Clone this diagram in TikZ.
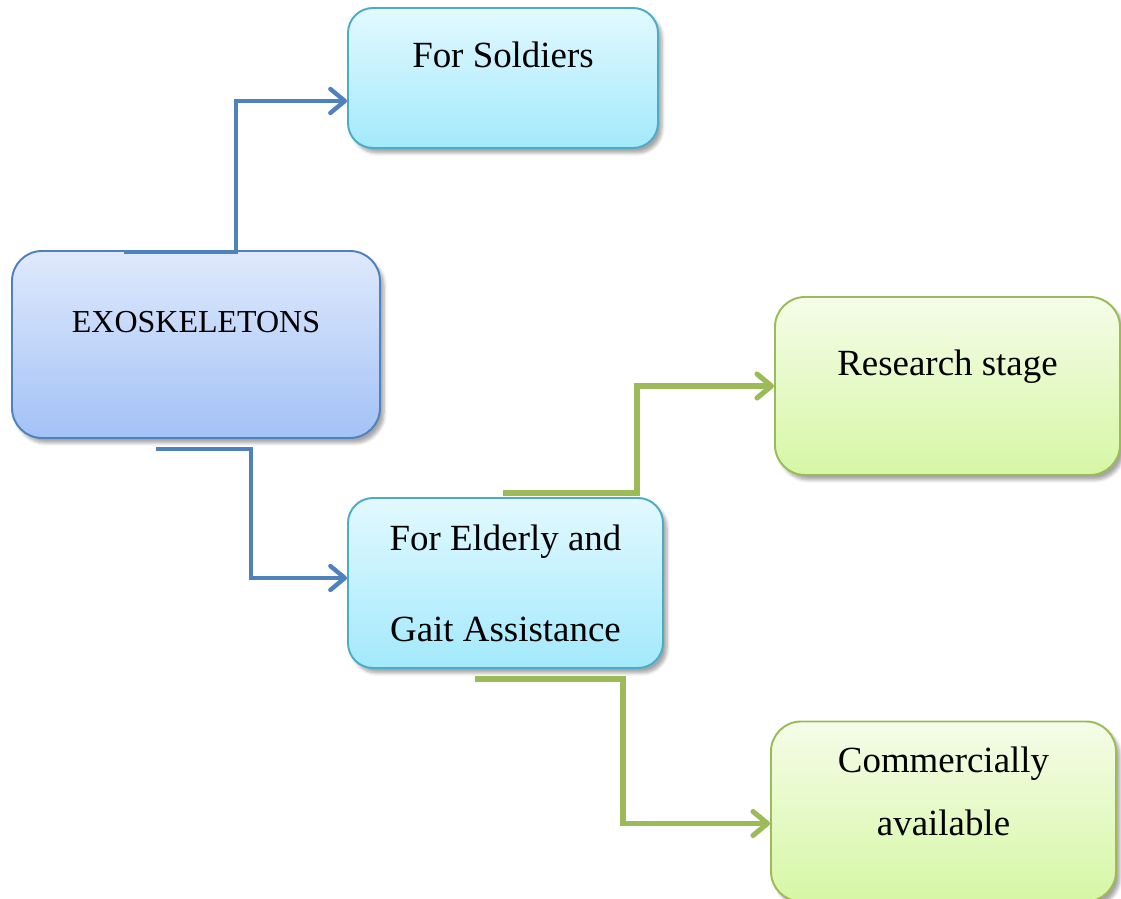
\documentclass[tikz,border=0pt]{standalone}
\usepackage{fontspec}
\setmainfont{Liberation Serif}
\usetikzlibrary{arrows.meta, positioning, calc, shadows.blur}
\definecolor{exoline}{HTML}{4F81BD}
\definecolor{exotop}{HTML}{DFE9FC}
\definecolor{exobot}{HTML}{A3C2F7}
\definecolor{cyline}{HTML}{4BACC6}
\definecolor{cytop}{HTML}{E2F9FF}
\definecolor{cybot}{HTML}{A3E9FC}
\definecolor{grline}{HTML}{9BBB59}
\definecolor{grtop}{HTML}{F5FCE8}
\definecolor{grbot}{HTML}{D6F7A5}

\begin{document}
\begin{tikzpicture}[
  >={Straight Barb[length=2.9mm, width=4.8mm, round]},
  box/.style n args={3}{
    draw=#1, line width=1.1pt, top color=#2, bottom color=#3,
    blur shadow={shadow xshift=0.8mm, shadow yshift=-1mm,
      shadow opacity=35, shadow blur steps=6}},
  lbl/.style={anchor=base, inner sep=0pt, text=black,
    font=\fontsize{21}{25}\selectfont},
  conn/.style={draw=#1, line width=2.5pt},
]

% Canvas
\useasboundingbox (0,0) rectangle (22.42,17.98);

% === Boxes ===
\node[box={exoline}{exotop}{exobot}, rounded corners=0.6cm,
  minimum width=7.36cm, minimum height=3.74cm] (exo) at (3.92,11.09) {};
\node[box={cyline}{cytop}{cybot}, rounded corners=0.5cm,
  minimum width=6.2cm, minimum height=2.8cm] (soldier) at (10.06,16.42) {};
\node[box={cyline}{cytop}{cybot}, rounded corners=0.5cm,
  minimum width=6.3cm, minimum height=3.4cm] (elderly) at (10.11,6.32) {};
\node[box={grline}{grtop}{grbot}, rounded corners=0.6cm,
  minimum width=6.9cm, minimum height=3.56cm] (research) at (18.95,10.26) {};
\node[box={grline}{grtop}{grbot}, rounded corners=0.6cm,
  minimum width=6.9cm, minimum height=3.6cm] (commercial) at (18.87,1.75) {};

% === Texts ===
\node[lbl, font=\fontsize{18.2}{22}\selectfont] (exotext)
  at ([yshift=0.23cm]exo.center) {EXOSKELETONS};
\node[lbl] (soldiertext) at ([yshift=0.2cm]soldier.center) {For Soldiers};
\node[lbl] (elderlyone) at ([yshift=0.64cm]elderly.center) {For Elderly and};
\node[lbl] (elderlytwo) at ([yshift=-1.18cm]elderly.center) {Gait Assistance};
\node[lbl] (researchtext) at ([yshift=0.2cm]research.center) {Research stage};
\node[lbl] (commone) at ([yshift=0.77cm]commercial.center) {Commercially};
\node[lbl] (commtwo) at ([yshift=-0.49cm]commercial.center) {available};

% === Connector start points ===
\coordinate (s1) at ([xshift=-1.44cm, yshift=-0.04cm]exo.north);
\coordinate (s2) at ([xshift=-0.8cm, yshift=-0.2cm]exo.south);
\coordinate (s3) at ([xshift=-0.05cm, yshift=0.08cm]elderly.north);
\coordinate (s4) at ([xshift=-0.61cm, yshift=-0.2cm]elderly.south);

% === Blue connectors ===
\draw[->, conn=exoline] (s1) -- ++(2.24,0) |- ([yshift=-0.46cm]soldier.west);
\draw[->, conn=exoline] (s2) -- ++(1.9,0) |- ([yshift=0.1cm]elderly.west);

% === Green connectors ===
\draw[->, conn=grline, line width=2.9pt] (s3) -- ++(2.68,0) |- (research.west);
\draw[->, conn=grline, line width=2.9pt] (s4) -- ++(2.96,0) |- ([yshift=-0.24cm]commercial.west);

\end{tikzpicture}
\end{document}
